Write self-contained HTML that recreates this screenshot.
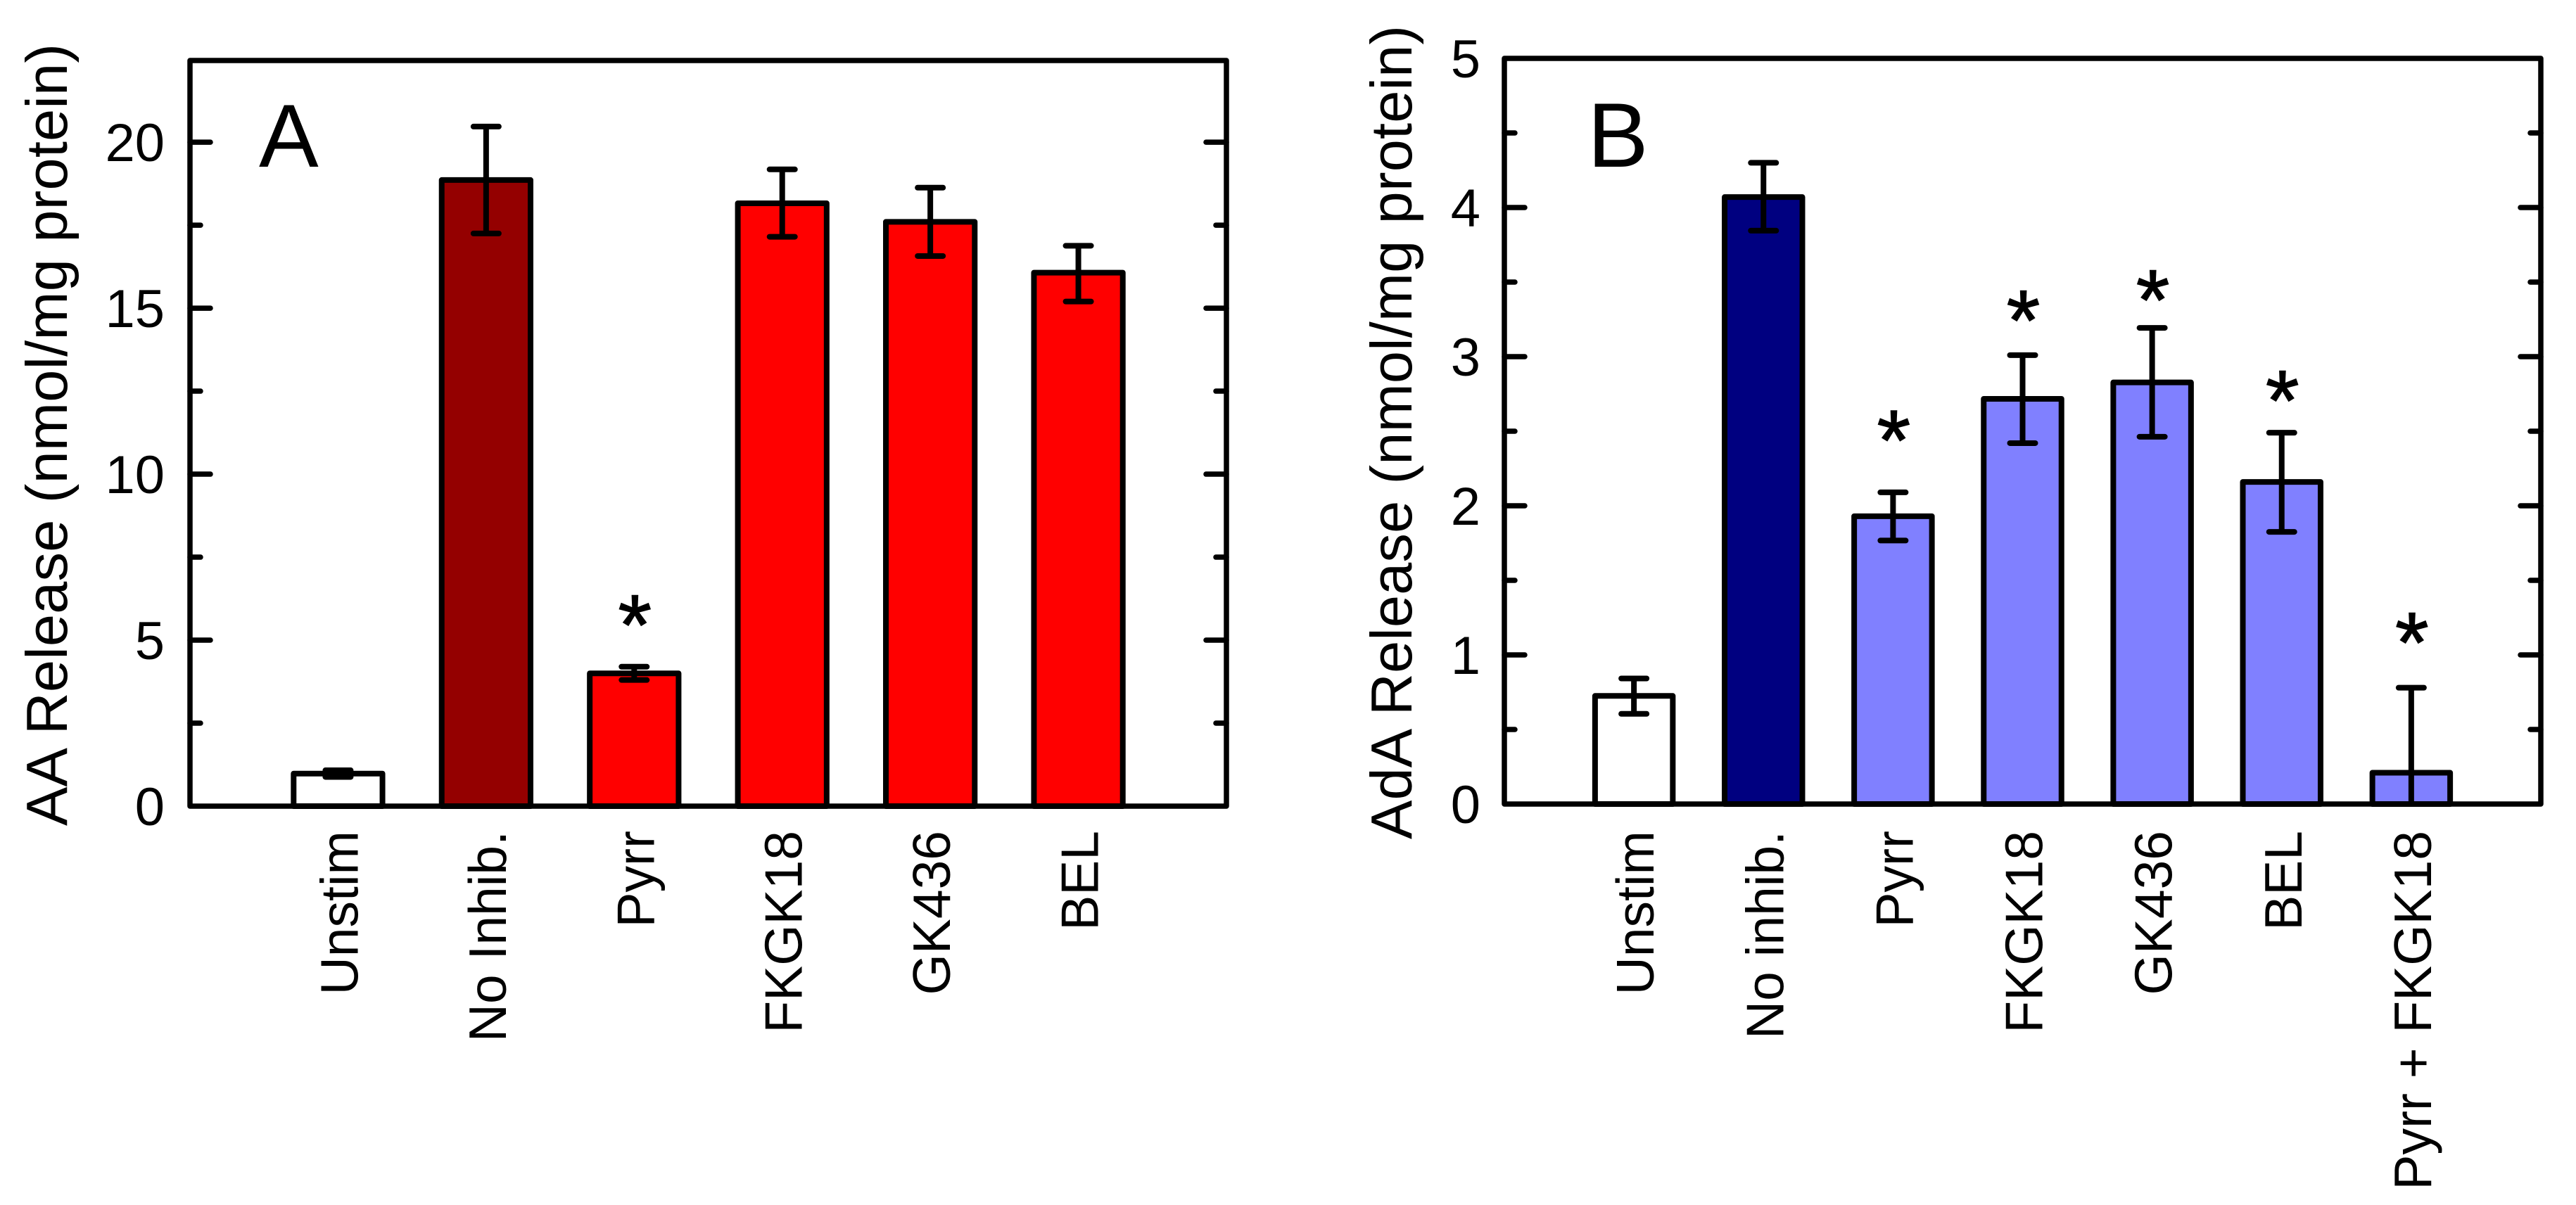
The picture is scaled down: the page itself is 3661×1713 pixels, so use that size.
<!DOCTYPE html>
<html lang="en">
<head>
<meta charset="utf-8">
<title>AA and AdA Release</title>
<style>
html,body{margin:0;padding:0;background:#fff;}
svg{display:block;}
text{font-family:"Liberation Sans",Arial,sans-serif;fill:#000;}
</style>
</head>
<body>
<svg id="figure" xmlns="http://www.w3.org/2000/svg" width="3661" height="1713" viewBox="0 0 3661 1713">
<rect x="0" y="0" width="3661" height="1713" fill="#ffffff"/>
</svg>
<script>
// Panel A data
const categoriesA = ["Unstim", "No Inhib.", "Pyrr", "FKGK18", "GK436", "BEL"];
const valuesA = [0.98, 18.86, 4.0, 18.16, 17.6, 16.07];
const errUpperA = [1.08, 20.47, 4.2, 19.18, 18.63, 16.88];
const errLowerA = [0.88, 17.25, 3.8, 17.15, 16.57, 15.2];
const starLevelsA = [null, null, 5.95, null, null, null];
const majorTicksA = [0, 5, 10, 15, 20];
const minorTicksA = [2.5, 7.5, 12.5, 17.5];

// Panel B data
const categoriesB = ["Unstim", "No inhib.", "Pyrr", "FKGK18", "GK436", "BEL", "Pyrr + FKGK18"];
const valuesB = [0.725, 4.07, 1.93, 2.717, 2.827, 2.16, 0.21];
const errUpperB = [0.842, 4.3, 2.09, 3.01, 3.193, 2.49, 0.78];
const errLowerB = [0.605, 3.845, 1.767, 2.42, 2.463, 1.825, -0.36];
const starLevelsB = [null, null, 2.55, 3.354, 3.49, 2.816, 1.193];
const majorTicksB = [0, 1, 2, 3, 4, 5];
const minorTicksB = [0.5, 1.5, 2.5, 3.5, 4.5];

const SVG_NS = "http://www.w3.org/2000/svg";
const figure = document.getElementById("figure");

function make(parent, tag, attrs, content) {
  const el = document.createElementNS(SVG_NS, tag);
  for (const k in attrs) el.setAttribute(k, attrs[k]);
  if (content !== undefined) el.textContent = content;
  parent.appendChild(el);
  return el;
}

function drawPanel(p) {
  const g = make(figure, "g", {});
  
  

  const xScale = v => p.left + (p.right - p.left) * v / (p.categories.length + 1);
  const yScale = v => p.bottom - (p.bottom - p.top) * v / p.yMax;
  const barW = 0.6 * (p.right - p.left) / (p.categories.length + 1);
  const fillFor = i => (i === 0 ? "#ffffff" : i === 1 ? p.darkFill : p.baseFill);

  // bars
  p.values.forEach((v, i) => {
    const cx = xScale(i + 1);
    const bar = make(g, "rect", {
      x: cx - barW / 2, y: yScale(v), width: barW, height: p.bottom - yScale(v),
      fill: fillFor(i), stroke: "#000", "stroke-width": 8, "stroke-linejoin": "round"
    });
    
    
  });

  // error bars
  p.values.forEach((v, i) => {
    const cx = xScale(i + 1);
    const hi = p.errUpper[i];
    const lo = p.errLower[i];
    const eg = make(g, "g", { stroke: "#000", "stroke-width": 8, "stroke-linecap": "round", fill: "none" });
    
    
    make(eg, "line", { x1: cx, x2: cx, y1: yScale(hi), y2: yScale(Math.max(lo, 0)), "stroke-linecap": "butt" });
    make(eg, "line", { x1: cx - 18, x2: cx + 18, y1: yScale(hi), y2: yScale(hi) });
    if (lo >= 0) make(eg, "line", { x1: cx - 18, x2: cx + 18, y1: yScale(lo), y2: yScale(lo) });
  });

  // frame
  const frame = make(g, "rect", {
    x: p.left, y: p.top, width: p.right - p.left, height: p.bottom - p.top,
    fill: "none", stroke: "#000", "stroke-width": 7.5, "stroke-linejoin": "round"
  });
  
  

  // ticks
  const drawTick = (v, len, kind) => {
    const y = yScale(v);
    const l = make(g, "line", { x1: p.left, x2: p.left + len, y1: y, y2: y, stroke: "#000", "stroke-width": 7.5, "stroke-linecap": "round" });
    
    
    const r = make(g, "line", { x1: p.right, x2: p.right - len, y1: y, y2: y, stroke: "#000", "stroke-width": 7.5, "stroke-linecap": "round" });
    
    
  };
  p.majorTicks.forEach(v => { if (v > 0 && v < p.yMax) drawTick(v, 29, "major"); });
  p.minorTicks.forEach(v => drawTick(v, 15, "minor"));

  // y tick labels
  p.majorTicks.forEach(v => {
    const t = make(g, "text", { x: p.tickLabelX, y: yScale(v) + 27, "text-anchor": "end", "font-size": 76 }, String(v));
    
    
  });

  // category labels
  p.categories.forEach((c, i) => {
    const bx = xScale(i + 1) + 28;
    const t = make(g, "text", {
      x: bx, y: p.catTop, "text-anchor": "end", "font-size": 75,
      transform: "rotate(-90 " + bx + " " + p.catTop + ")"
    }, c);
    
    
  });

  // significance stars
  p.stars.forEach((s, i) => {
    if (s === null) return;
    const t = make(g, "text", {
      x: xScale(i + 1) + 1, y: yScale(s) + 65, "text-anchor": "middle", "font-size": 122,
      stroke: "#000", "stroke-width": 1.5
    }, "*");
    
    
  });

  // y axis title (tracking is measured so its printed length matches the reference)
  const title = make(g, "text", {
    x: p.titleX, y: p.titleBottom, "font-size": 83,
    transform: "rotate(-90 " + p.titleX + " " + p.titleBottom + ")"
  }, p.yTitle);
  
  
  const titleExtra = (p.titleLength - title.getComputedTextLength()) / (p.yTitle.length - 1);
  title.setAttribute('letter-spacing', titleExtra);

  // panel letter
  const letter = make(g, "text", { x: p.letterX, y: p.letterY, "font-size": p.letterSize }, p.letter);
  
  
}

drawPanel({
  id: "panel-a", letter: "A", yTitle: "AA Release (nmol/mg protein)",
  categories: categoriesA, values: valuesA, errUpper: errUpperA, errLower: errLowerA,
  stars: starLevelsA, majorTicks: majorTicksA, minorTicks: minorTicksA,
  slugs: ["unstim", "no-inhib", "pyrr", "fkgk18", "gk436", "bel"],
  yMax: 22.46, left: 270, right: 1743, top: 86, bottom: 1146,
  darkFill: "#940000", baseFill: "#ff0000",
  tickLabelX: 234, catTop: 1181, titleX: 95, titleBottom: 1174, titleLength: 1112,
  letterX: 368, letterY: 237, letterSize: 127
});

drawPanel({
  id: "panel-b", letter: "B", yTitle: "AdA Release (nmol/mg protein)",
  categories: categoriesB, values: valuesB, errUpper: errUpperB, errLower: errLowerB,
  stars: starLevelsB, majorTicks: majorTicksB, minorTicks: minorTicksB,
  slugs: ["unstim", "no-inhib", "pyrr", "fkgk18", "gk436", "bel", "pyrr-fkgk18"],
  yMax: 5, left: 2138, right: 3611, top: 83, bottom: 1143,
  darkFill: "#000080", baseFill: "#8080ff",
  tickLabelX: 2104, catTop: 1181, titleX: 2006, titleBottom: 1193, titleLength: 1157,
  letterX: 2256, letterY: 237, letterSize: 130
});
</script>
</body>
</html>
